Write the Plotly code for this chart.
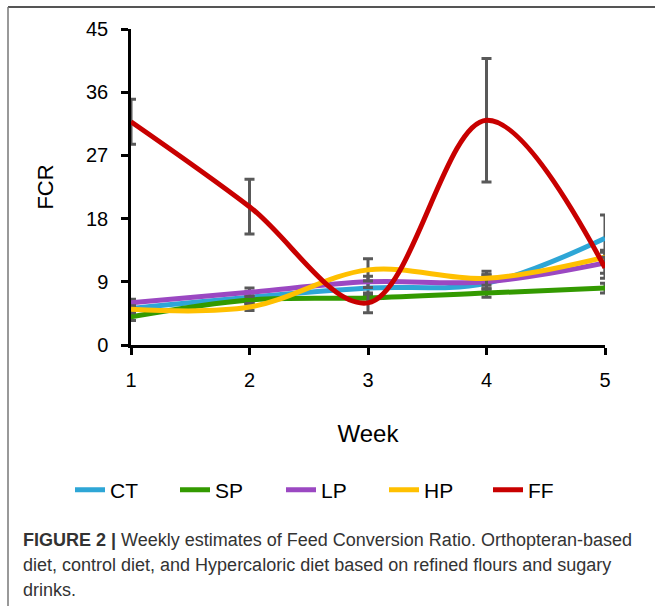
import plotly.graph_objects as go

weeks = [1, 2, 3, 4, 5]
series_names = ["CT", "SP", "LP", "HP", "FF"]
ct = [5.2, 6.8, 8.1, 8.8, 15.2]
sp = [4.0, 6.4, 6.7, 7.4, 8.1]
lp = [6.0, 7.5, 9.0, 9.0, 11.7]
hp = [5.1, 5.4, 10.7, 9.5, 12.5]
ff = [31.8, 19.7, 6.0, 32.0, 11.0]
ct_err = [0.6, 0.8, 1.0, 1.2, 3.3]
sp_err = [0.5, 0.6, 0.6, 0.6, 0.7]
lp_err = [0.5, 0.6, 0.8, 1.0, 1.5]
hp_err = [0.5, 0.5, 1.6, 1.0, 1.0]
ff_err = [3.2, 3.9, 1.4, 8.8, 1.5]
colors = ["#2EA6D6", "#339A00", "#9B48C2", "#FFC000", "#C80000"]
y_ticks = [0, 9, 18, 27, 36, 45]

values = [ct, sp, lp, hp, ff]
errors = [ct_err, sp_err, lp_err, hp_err, ff_err]

# plot area in pixels
L, R, T, B = 131, 605, 29, 345
W_PLOT, H_PLOT = R - L, B - T

def px_x(px):
    return (px - L) / W_PLOT

def px_y(py):
    return (B - py) / H_PLOT

legend_ids = ["legend", "legend2", "legend3", "legend4", "legend5"]
legend_starts = [72, 177, 283, 386, 490]

fig = go.Figure()
for name, v, e, c, lid in zip(series_names, values, errors, colors, legend_ids):
    fig.add_trace(go.Scatter(
        x=weeks, y=v, name=name, mode="lines", legend=lid,
        line=dict(color=c, width=5, shape="spline", smoothing=1.0),
        error_y=dict(type="data", array=e, visible=True, color="#595959",
                     thickness=3, width=5),
    ))

base = "Liberation Sans, Arial, sans-serif"
legend_font = dict(family=base, size=21, color="#000")
layout_legends = {}
for lid, sx in zip(legend_ids, legend_starts):
    layout_legends[lid] = dict(orientation="h", x=px_x(sx - 2), xanchor="left",
                               y=px_y(490), yanchor="middle", font=legend_font,
                               itemwidth=30, bgcolor="rgba(0,0,0,0)",
                               borderwidth=0)

fig.update_layout(
    width=655, height=606,
    margin=dict(l=L, r=655 - R, t=T, b=606 - B, autoexpand=False),
    paper_bgcolor="white", plot_bgcolor="white",
    font=dict(family=base, size=20, color="#000"),
    showlegend=True,
    xaxis=dict(range=[1, 5], tickvals=weeks, ticks="outside", ticklen=7, tickwidth=2.5,
               tickcolor="#000", showline=True, linecolor="#000", linewidth=2.5,
               showgrid=False, zeroline=False, ticklabelstandoff=8,
               title=dict(text="Week", font=dict(size=24), standoff=36),
               tickfont=dict(size=20)),
    yaxis=dict(range=[0, 45], tickvals=y_ticks, ticks="outside", ticklen=7, tickwidth=2.5,
               tickcolor="#000", showline=True, linecolor="#000", linewidth=2.5,
               showgrid=False, zeroline=False, ticklabelstandoff=9,
               title=dict(text="FCR", font=dict(size=22), standoff=27),
               tickfont=dict(size=20)),
    **layout_legends,
)

# figure frame lines
fig.add_shape(type="line", xref="paper", yref="paper", x0=px_x(8), x1=px_x(660),
              y0=px_y(7), y1=px_y(7), line=dict(color="#555", width=2))
fig.add_shape(type="line", xref="paper", yref="paper", x0=px_x(8), x1=px_x(8),
              y0=px_y(7), y1=px_y(610), line=dict(color="#777", width=1.5))

caption_lines = [
    "<b>FIGURE 2 |</b> Weekly estimates of Feed Conversion Ratio. Orthopteran-based",
    "diet, control diet, and Hypercaloric diet based on refined flours and sugary",
    "drinks.",
]
for i, t in enumerate(caption_lines):
    py = 540 + i * 25
    fig.add_annotation(text=t, xref="paper", yref="paper", x=px_x(21), y=px_y(py),
                       xanchor="left", yanchor="middle", showarrow=False,
                       font=dict(family="Liberation Sans Narrow, Liberation Sans, Arial, sans-serif",
                                 size=18, color="#333"))

fig.write_html("out.html", config={"displayModeBar": False},
               post_script="document.body.style.margin='0';document.body.style.overflow='hidden';")
